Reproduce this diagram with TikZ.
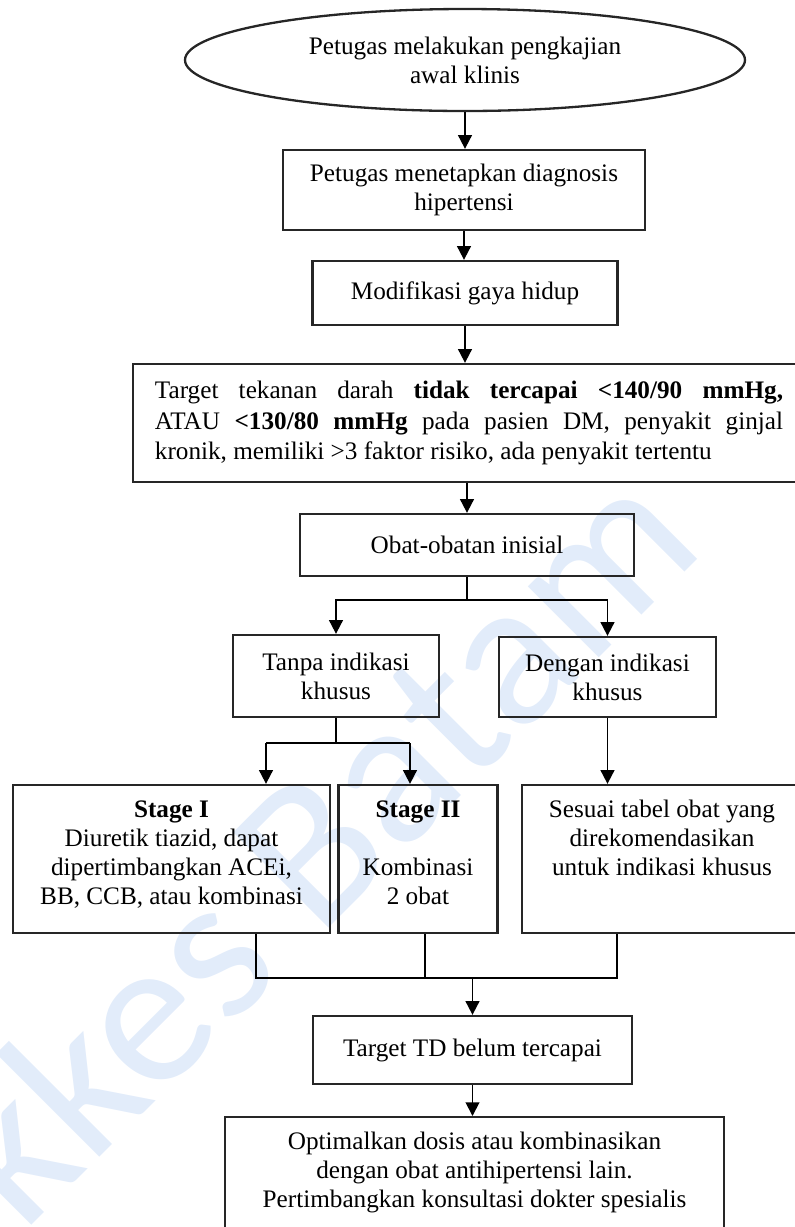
\documentclass[tikz,border=0pt]{standalone}
\usepackage{fontspec}
\setmainfont{Liberation Serif}
\newfontfamily\wmfont{Carlito}
\usetikzlibrary{arrows.meta,shapes.geometric}
\newcommand{\px}{0.476pt}
\definecolor{wmblue}{RGB}{226,236,250}
\tikzset{
  box/.style={draw=black!85, line width=1.1pt, align=center, inner sep=0pt},
  arr/.style={-{Triangle[length=6.5pt,width=6.5pt]}, line width=0.9pt},
  link/.style={line width=0.9pt},
}
\begin{document}
\begin{tikzpicture}[x=\px, y=-\px, font=\fontsize{12}{13.8}\selectfont]
  \useasboundingbox (0,0) rectangle (795,1227);
  \clip (0,0) rectangle (795,1227);

  % watermark
  \node[rotate=45, anchor=base east, text=wmblue, font=\wmfont\fontsize{100}{100}\selectfont] (wm) at (712,545) {Poltekkes Batam};

  \node[box, ellipse, minimum width=560*\px, minimum height=102*\px] (awal) at (465,60) {Petugas melakukan pengkajian\\awal klinis};
  \node[box, minimum width=362*\px, minimum height=80*\px] (diag) at (464,190) {Petugas menetapkan diagnosis\\hipertensi};
  \node[box, minimum width=305*\px, minimum height=64*\px] (gaya) at (465,293) {Modifikasi gaya hidup};
  \node[box, minimum width=672*\px, minimum height=118*\px, text width=299pt, align=justify,
        font=\fontsize{12}{14.6}\selectfont] (target) at (469,423)
    {Target tekanan darah \textbf{tidak tercapai <140/90 mmHg,}\linebreak
     ATAU \textbf{<130/80 mmHg} pada pasien DM, penyakit ginjal\linebreak
     kronik, memiliki >3 faktor risiko, ada penyakit tertentu};
  \node[box, minimum width=334*\px, minimum height=62*\px] (inisial) at (467,545) {Obat-obatan inisial};
  \node[box, minimum width=206*\px, minimum height=82*\px] (tanpa) at (336,676) {Tanpa indikasi\\khusus};
  \node[box, minimum width=217*\px, minimum height=80*\px] (dengan) at (607.5,677) {Dengan indikasi\\khusus};

  \node[box, minimum width=317*\px, minimum height=148*\px] (stage1) at (171.5,859) {};
  \node[box, minimum width=159*\px, minimum height=148*\px] (stage2) at (418,859) {};
  \node[box, minimum width=280*\px, minimum height=148*\px] (sesuai) at (662,859) {};
  \node[align=center, anchor=north, inner sep=0pt] (stage1txt) at (171.5,800)
    {\textbf{Stage I}\\Diuretik tiazid, dapat\\dipertimbangkan ACEi,\\BB, CCB, atau kombinasi};
  \node[align=center, anchor=north, inner sep=0pt] (stage2txt) at (418,800)
    {\textbf{Stage II}\\[13.8pt]Kombinasi\\2 obat};
  \node[align=center, anchor=north, inner sep=0pt] (sesuaitxt) at (662,800)
    {Sesuai tabel obat yang\\direkomendasikan\\untuk indikasi khusus};

  \node[box, minimum width=319*\px, minimum height=68*\px] (td) at (472.5,1050) {Target TD belum tercapai};
  \node[box, anchor=north, minimum width=499*\px, minimum height=150*\px] (akhir) at (474.5,1116) {};
  \node[align=center, anchor=north, inner sep=0pt] (akhirtxt) at (474.5,1132)
    {Optimalkan dosis atau kombinasikan\\dengan obat antihipertensi lain.\\Pertimbangkan konsultasi dokter spesialis};

  % main line
  \draw[arr] (awal.south) -- (awal.south |- diag.north);
  \draw[arr] (diag.south) -- (diag.south |- gaya.north);
  \draw[arr] (gaya.south) -- (gaya.south |- target.north);
  \draw[arr] (inisial.north |- target.south) -- (inisial.north);

  % split after initial drugs
  \draw[link] (inisial.south) -- ++(0,23) coordinate (f0);
  \draw[arr] (f0) -| (tanpa.north);
  \draw[arr] (f0) -| (dengan.north);

  \coordinate (b1) at (266,743);
  \coordinate (b2) at (410,743);
  \draw[link] (tanpa.south) -- (tanpa.south |- b1);
  \draw[link] (b1) -- (b2);
  \draw[arr] (b1) -- (b1 |- stage1.north);
  \draw[arr] (b2) -- (b2 |- stage2.north);
  \draw[arr] (dengan.south) -- (dengan.south |- sesuai.north);

  % join
  \coordinate (m1) at (256,978);
  \coordinate (m2) at (425,978);
  \coordinate (m3) at (617,978);
  \draw[link] (m1 |- stage1.south) -- (m1) -- (m3) -- (m3 |- sesuai.south);
  \draw[link] (m2 |- stage2.south) -- (m2);
  \draw[arr] (td.north |- m1) -- (td.north);
  \draw[arr] (td.south) -- (td.south |- akhir.north);
\end{tikzpicture}
\end{document}
